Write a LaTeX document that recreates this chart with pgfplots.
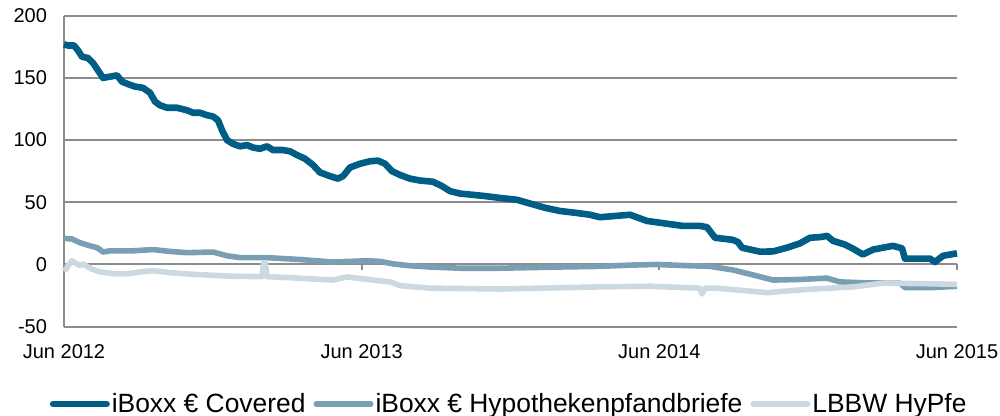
\documentclass[border=0pt]{standalone}
\usepackage{pgfplots}
\pgfplotsset{compat=1.18}
\usepackage{fontspec}
\setmainfont{Liberation Sans}
\definecolor{cov}{HTML}{005E86}
\definecolor{hyp}{HTML}{789FB2}
\definecolor{lbbw}{HTML}{CCD9E0}
\definecolor{gridc}{HTML}{8C8C8C}
\begin{document}
\begin{tikzpicture}
\path[use as bounding box] (0,0) rectangle (500pt,208pt);
\begin{axis}[
  at={(32pt,44.65pt)}, anchor=south west,
  width=446.5pt, height=155.5pt, scale only axis,
  xmin=0, xmax=1095, ymin=-50, ymax=200,
  xtick={0,365,730,1095},
  xticklabels={Jun 2012,Jun 2013,Jun 2014,Jun 2015},
  ytick={-50,0,50,100,150,200},
  yticklabels={-50,0,50,100,150,200},
  major tick length=0pt,
  axis line style={draw=none},
  ymajorgrids, grid style={gridc, line width=1pt},
  tick label style={font=\fontsize{10}{12}\selectfont},
  /pgf/number format/assume math mode=true,
  xticklabel style={yshift=-5.5pt},
  yticklabel style={xshift=-5pt},
  clip=false,
  legend columns=3,
  legend style={at={(0.4985,-0.2486)}, anchor=center, draw=none, fill=none,
    font=\fontsize{13.2}{15}\selectfont, inner sep=0pt,
    nodes={inner sep=1pt},
    /tikz/every even column/.append style={column sep=3pt}},
  legend image code/.code={\draw[#1, line width=3pt, line cap=round] (0pt,0pt) -- (27pt,0pt);},
]
\draw[gridc, line width=1pt] (axis cs:0,-50) -- (axis cs:0,200);
\draw[gridc, line width=1pt] (axis cs:0,0) -- (axis cs:1095,0);
\pgfplotsinvokeforeach{365,730,1095}{\draw[gridc, line width=1pt] (axis cs:#1,0) -- ([yshift=-3pt]axis cs:#1,0);}
\addplot[cov, line width=3.3pt, line join=round] coordinates {
(0,177) (4.9,176) (12.3,176) (17.2,172) (22.1,167) (29.4,166) (35.6,162) (41.7,156)
(47.8,150) (56.4,151) (65.0,152) (71.1,147) (78.5,145) (87.1,143) (96.9,142)
(105.5,138) (111.6,131) (117.7,128) (126.3,126) (138.6,126) (150.8,124) (158.2,122)
(166.8,122) (175.3,120) (182.7,119) (188.8,116) (193.7,108) (199.9,100) (207.2,97)
(215.8,95) (224.4,96) (231.8,94) (240.3,93) (248.9,95) (256.3,92) (268.5,92)
(277.1,91) (285.7,88) (295.5,85) (305.3,80) (313.9,74) (326.2,71) (336.0,69)
(342.1,71) (350.7,78) (363.0,81) (375.2,83) (385.0,83.5) (393.6,81) (402.2,75)
(412.0,72) (424.3,69) (436.5,67.5) (452.5,66.5) (463.5,63) (473.3,59) (485.6,57)
(501.5,56) (516.2,55) (534.6,53.5) (555.5,52) (571.4,49) (589.8,45.6) (608.2,43)
(626.6,41.6) (645.0,40) (657.2,38) (675.6,39) (694.0,40) (714.9,35) (736.9,33)
(759.0,31) (779.9,31) (788.4,30) (798.3,21.5) (820.3,19.8) (826.5,18) (831.4,13.5)
(853.4,10.3) (869.4,10.5) (886.5,13.5) (902.5,17) (914.8,21.5) (927.1,22) (935.6,23)
(943.0,19) (957.7,16) (967.5,12.7) (979.7,8) (992.0,12) (1016.5,15) (1027.6,13)
(1031.2,4.7) (1061.9,4.7) (1068.0,2) (1077.8,7) (1095,9)
};
\addlegendentry{iBoxx € Covered}
\addplot[hyp, line width=2.8pt, line join=round] coordinates {
(0,21) (9.8,20.5) (19.6,17.5) (31.9,15) (40.5,13.5) (44.1,12) (47.8,10) (56.4,11)
(84.6,11) (109.1,12) (130.0,10.5) (150.8,9.5) (182.7,10) (199.9,7) (215.8,5.5)
(248.9,5.5) (289.4,4) (329.8,2) (350.7,2.5) (371.5,3) (387.5,2.5) (403.4,0.5)
(424.3,-1) (448.8,-2) (485.6,-3) (534.6,-3) (571.4,-2.5) (608.2,-2) (657.2,-1.5)
(694.0,-0.5) (727.1,0) (767.6,-1) (792.1,-1.5) (820.3,-4.4) (844.9,-8.4)
(869.4,-12.5) (902.5,-12) (935.6,-11) (951.5,-14) (984.6,-14.8) (1025.1,-15)
(1031.2,-18.5) (1065.6,-18.5) (1095,-17.5)
};
\addlegendentry{iBoxx € Hypothekenpfandbriefe}
\addplot[lbbw, line width=2.8pt, line join=round] coordinates {
(0,-2) (2.5,-4) (4.9,-1) (9.8,3) (14.7,1) (19.6,-1) (23.3,0.5) (31.9,-3) (44.1,-6)
(62.5,-7.5) (77.3,-7.6) (93.2,-6) (109.1,-5) (130,-6.5) (150.8,-7.6) (199.9,-9.3)
(242.8,-9.8) (244.6,1) (247.1,1) (248.9,-9.8) (289.4,-11) (329.8,-12.5) (347.0,-10)
(378.9,-12.5) (399.7,-14) (412.0,-17) (448.8,-19) (534.6,-19.7) (657.2,-18)
(718.6,-17.5) (779.9,-19) (782.3,-23.7) (786.0,-19) (800.7,-19) (862.0,-22.6)
(911.1,-20) (939.3,-19) (967.5,-18) (1004.3,-15) (1065.6,-15.5) (1095,-16)
};
\addlegendentry{LBBW HyPfe}
\end{axis}
\end{tikzpicture}
\end{document}
